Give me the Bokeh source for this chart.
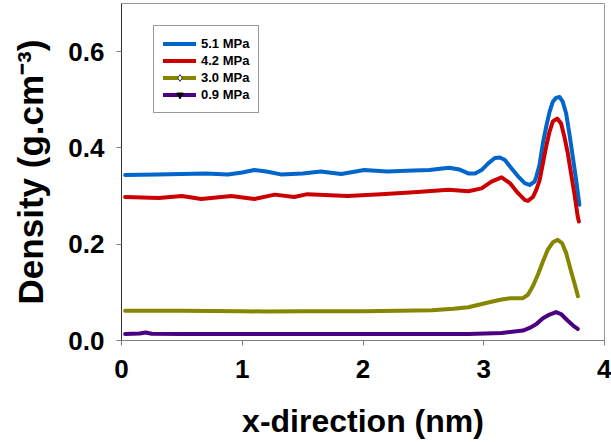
from bokeh.plotting import figure
from bokeh.models import Range1d, FixedTicker, Legend, LegendItem
from bokeh.embed import file_html
from bokeh.resources import INLINE

# ---- data ----
x_51 = [0.03, 0.3, 0.5, 0.7, 0.88, 1.0, 1.1, 1.2, 1.32, 1.5, 1.65, 1.82, 2.01, 2.2, 2.42, 2.55, 2.71,
        2.80, 2.872, 2.928, 2.982, 3.037, 3.092, 3.133, 3.175, 3.229, 3.284, 3.339, 3.380, 3.421,
        3.435, 3.462, 3.490, 3.517, 3.545, 3.572, 3.599, 3.627, 3.654, 3.682, 3.709, 3.737, 3.765, 3.792]
y_51 = [0.344, 0.345, 0.346, 0.347, 0.345, 0.349, 0.354, 0.351, 0.345, 0.347, 0.351, 0.346, 0.354, 0.351,
        0.353, 0.354, 0.359, 0.355, 0.347, 0.347, 0.354, 0.368, 0.379, 0.380, 0.375, 0.358, 0.341,
        0.327, 0.323, 0.330, 0.340, 0.365, 0.410, 0.444, 0.475, 0.496, 0.504, 0.506, 0.496, 0.472,
        0.430, 0.382, 0.334, 0.282]

x_42 = [0.03, 0.31, 0.5, 0.66, 0.91, 1.10, 1.27, 1.43, 1.54, 1.87, 2.15, 2.42, 2.71, 2.872, 2.982,
        3.064, 3.147, 3.216, 3.284, 3.339, 3.366, 3.407, 3.435, 3.462, 3.490, 3.517, 3.545, 3.572,
        3.608, 3.640, 3.668, 3.696, 3.723, 3.750, 3.778, 3.788]
y_42 = [0.298, 0.296, 0.300, 0.294, 0.300, 0.294, 0.303, 0.298, 0.304, 0.300, 0.304, 0.308, 0.313, 0.310,
        0.316, 0.330, 0.339, 0.327, 0.306, 0.292, 0.290, 0.298, 0.313, 0.332, 0.368, 0.403, 0.434,
        0.455, 0.461, 0.451, 0.423, 0.389, 0.347, 0.306, 0.258, 0.247]

x_30 = [0.03, 0.5, 1.0, 1.2, 1.5, 2.0, 2.3, 2.57, 2.75, 2.872, 3.037, 3.147, 3.229, 3.325, 3.366,
        3.407, 3.449, 3.490, 3.531, 3.572, 3.613, 3.649, 3.682, 3.723, 3.750, 3.780]
y_30 = [0.062, 0.062, 0.061, 0.060, 0.061, 0.061, 0.062, 0.063, 0.066, 0.069, 0.079, 0.085, 0.088,
        0.088, 0.095, 0.113, 0.137, 0.164, 0.189, 0.204, 0.209, 0.202, 0.182, 0.144, 0.120, 0.092]

x_09 = [0.03, 0.15, 0.2, 0.25, 0.5, 1.0, 2.0, 2.872, 3.147, 3.325, 3.380, 3.435, 3.490, 3.545,
        3.599, 3.640, 3.696, 3.740, 3.778]
y_09 = [0.0137, 0.0145, 0.0166, 0.0140, 0.0137, 0.0137, 0.0135, 0.0137, 0.0158, 0.0207, 0.026,
        0.034, 0.046, 0.054, 0.059, 0.055, 0.041, 0.031, 0.024]

labels = ["5.1 MPa", "4.2 MPa", "3.0 MPa", "0.9 MPa"]
colors = ["#0066cc", "#cc0000", "#868600", "#4b0082"]
x_ticks = [0, 1, 2, 3, 4]
y_ticks = [0.0, 0.2, 0.4, 0.6]

FONT = "Liberation Sans"
NAN = float("nan")

p = figure(width=611, height=442, output_backend="svg", toolbar_location=None,
           x_range=Range1d(0, 4), y_range=Range1d(0, 0.7),
           min_border_left=121, min_border_right=7, min_border_top=3, min_border_bottom=102)

p.xgrid.visible = False
p.ygrid.visible = False
p.outline_line_color = "#999999"
p.background_fill_color = "white"
p.border_fill_color = "white"

rs = []
for xs, ys, c in zip([x_51, x_42, x_30, x_09], [y_51, y_42, y_30, y_09], colors):
    r = p.line(xs, ys, line_color=c, line_width=4, line_join="round", line_cap="round")
    rs.append(r)

# legend-only marker glyphs (no visible data point)
m30 = p.scatter([NAN], [NAN], marker="diamond", size=9, fill_color="white", line_color="#333333",
                line_width=1)
m09 = p.scatter([NAN], [NAN], marker="inverted_triangle", size=7, fill_color="black",
                line_color="black")

items = [LegendItem(label=labels[0], renderers=[rs[0]]),
         LegendItem(label=labels[1], renderers=[rs[1]]),
         LegendItem(label=labels[2], renderers=[rs[2], m30]),
         LegendItem(label=labels[3], renderers=[rs[3], m09])]
legend = Legend(items=items, location=(32, 227), orientation="vertical",
                glyph_width=33, glyph_height=17, label_height=17, spacing=0,
                padding=9, margin=0, label_standoff=5,
                label_text_font=FONT, label_text_font_style="bold", label_text_font_size="13px",
                label_text_color="black",
                border_line_color="#333333", border_line_width=1,
                background_fill_color="white", background_fill_alpha=1)
p.add_layout(legend, "center")

for ax in (p.xaxis[0], p.yaxis[0]):
    ax.major_tick_in = 0
    ax.major_tick_out = 5
    ax.minor_tick_in = 0
    ax.minor_tick_out = 0
    ax.major_tick_line_color = "#808080"
    ax.major_label_text_font = FONT
    ax.major_label_text_font_style = "bold"
    ax.major_label_text_font_size = "26px"
    ax.major_label_text_color = "black"
    ax.axis_label_text_font = FONT
    ax.axis_label_text_font_style = "bold"
    ax.axis_label_text_color = "black"

p.xaxis.ticker = FixedTicker(ticks=x_ticks)
p.yaxis.ticker = FixedTicker(ticks=y_ticks)
p.yaxis.major_label_overrides = {v: f"{v:.1f}" for v in y_ticks}
p.xaxis.axis_line_color = "#808080"
p.yaxis.axis_line_color = "#333333"

p.xaxis.axis_label = "x-direction (nm)"
p.xaxis.axis_label_text_font_size = "32px"
p.xaxis.major_label_standoff = 14
p.xaxis.axis_label_standoff = 22

p.yaxis.axis_label = "Density (g.cm\u207b\u00b3)"
p.yaxis.axis_label_text_font_size = "35px"
p.yaxis.major_label_standoff = 12
p.yaxis.axis_label_standoff = 15

open("out.html", "w").write(file_html(p, INLINE))
